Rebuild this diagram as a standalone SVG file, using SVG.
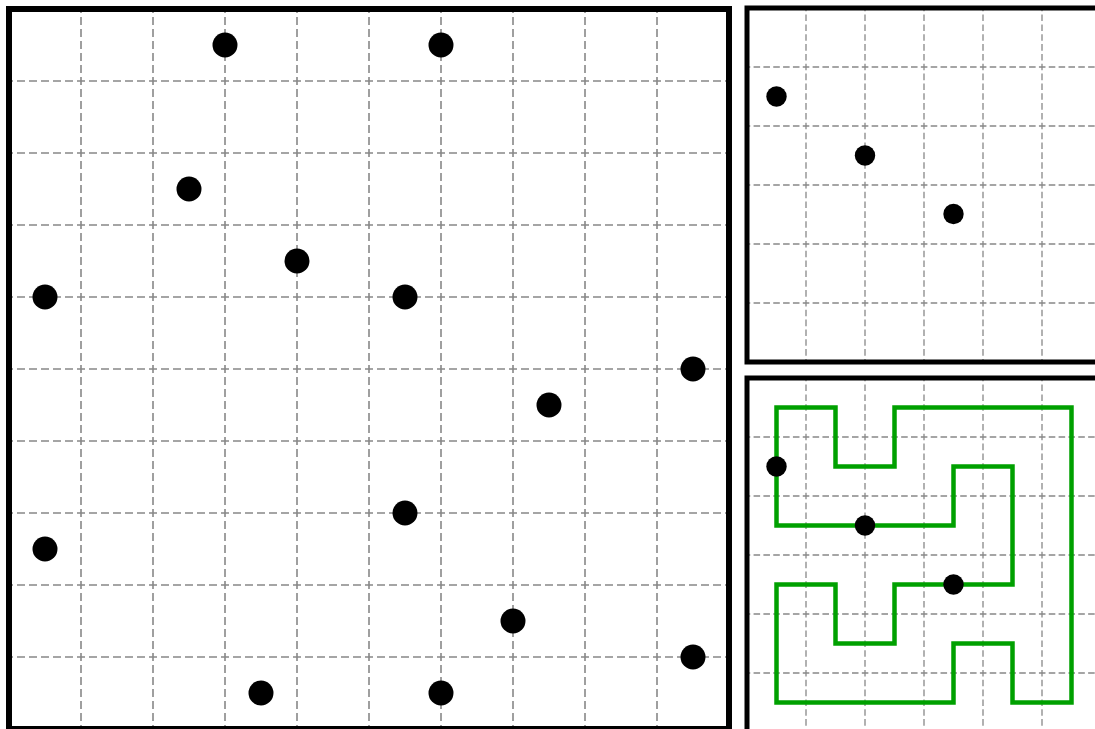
<svg xmlns="http://www.w3.org/2000/svg" width="1095" height="729" viewBox="0 0 1095 729">
<style>
.frame{fill:none;stroke:#000;stroke-width:6}
.frameS{fill:none;stroke:#000;stroke-width:5}
.gridL{stroke:#888;stroke-width:1.6;stroke-dasharray:8 4;stroke-dashoffset:4;fill:none}
.gridS{stroke:#888;stroke-width:1.3;stroke-dasharray:6.56 3.28;stroke-dashoffset:3.28;fill:none}
.dotL{fill:#000}
.path{fill:none;stroke:#00a000;stroke-width:4.5;stroke-linejoin:miter}
</style>
<rect width="1095" height="729" fill="#fff"/>
<g id="left-panel">
  <g id="left-grid" class="gridL">
    <path d="M81 9V729M153 9V729M225 9V729M297 9V729M369 9V729M441 9V729M513 9V729M585 9V729M657 9V729"/>
    <path d="M9 81H729M9 153H729M9 225H729M9 297H729M9 369H729M9 441H729M9 513H729M9 585H729M9 657H729"/>
  </g>
  <g id="left-dots" class="dotL">
    <circle cx="225" cy="45" r="12.5"/>
    <circle cx="441" cy="45" r="12.5"/>
    <circle cx="189" cy="189" r="12.5"/>
    <circle cx="297" cy="261" r="12.5"/>
    <circle cx="45" cy="297" r="12.5"/>
    <circle cx="405" cy="297" r="12.5"/>
    <circle cx="693" cy="369" r="12.5"/>
    <circle cx="549" cy="405" r="12.5"/>
    <circle cx="405" cy="513" r="12.5"/>
    <circle cx="45" cy="549" r="12.5"/>
    <circle cx="513" cy="621" r="12.5"/>
    <circle cx="693" cy="657" r="12.5"/>
    <circle cx="261" cy="693" r="12.5"/>
    <circle cx="441" cy="693" r="12.5"/>
  </g>
  <rect class="frame" x="9" y="9" width="720" height="720"/>
</g>
<g id="top-right-panel">
  <g class="gridS">
    <path d="M806 8V362M865 8V362M924 8V362M983 8V362M1042 8V362"/>
    <path d="M747 67H1101M747 126H1101M747 185H1101M747 244H1101M747 303H1101"/>
  </g>
  <g class="dotL">
    <circle cx="776.5" cy="96.5" r="10.2"/>
    <circle cx="865" cy="155.5" r="10.2"/>
    <circle cx="953.5" cy="214" r="10.2"/>
  </g>
  <rect class="frameS" x="747" y="8" width="354" height="354"/>
</g>
<g id="bottom-right-panel">
  <g class="gridS">
    <path d="M806 378V732M865 378V732M924 378V732M983 378V732M1042 378V732"/>
    <path d="M747 437H1101M747 496H1101M747 555H1101M747 614H1101M747 673H1101"/>
  </g>
  <g id="connectors">
    <path class="path" d="M776.5 407.5H835.5V466.5H894.5V407.5H1071.5V702.5H1012.5V643.5H953.5V702.5H776.5V584.5H835.5V643.5H894.5V584.5H1012.5V466.5H953.5V525.5H776.5Z"/>
  </g>
  <g class="dotL">
    <circle cx="776.5" cy="466.5" r="10.2"/>
    <circle cx="865" cy="525.5" r="10.2"/>
    <circle cx="953.5" cy="584.5" r="10.2"/>
  </g>
  <rect class="frameS" x="747" y="378" width="354" height="354"/>
</g>
</svg>
